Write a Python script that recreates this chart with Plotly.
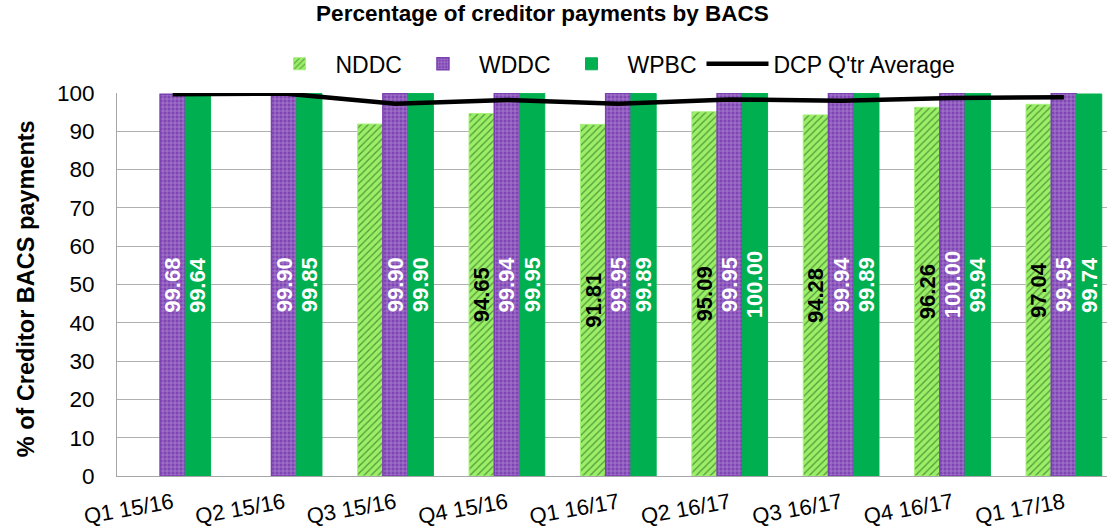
import plotly.graph_objects as go

categories = ["Q1 15/16", "Q2 15/16", "Q3 15/16", "Q4 15/16", "Q1 16/17",
              "Q2 16/17", "Q3 16/17", "Q4 16/17", "Q1 17/18"]
nddc = [None, None, 91.9, 94.65, 91.81, 95.09, 94.28, 96.26, 97.04]
nddc_labels = ["", "", "", "94.65", "91.81", "95.09", "94.28", "96.26", "97.04"]
wddc = [99.68, 99.90, 99.90, 99.94, 99.95, 99.95, 99.94, 100.00, 99.95]
wddc_labels = ["99.68", "99.90", "99.90", "99.94", "99.95", "99.95", "99.94", "100.00", "99.95"]
wpbc = [99.64, 99.85, 99.90, 99.95, 99.89, 100.00, 99.89, 99.94, 99.74]
wpbc_labels = ["99.64", "99.85", "99.90", "99.95", "99.89", "100.00", "99.89", "99.94", "99.74"]
dcp_avg = [99.66, 99.88, 97.2, 98.2, 97.2, 98.3, 98.0, 98.7, 98.9]
yticks = [0, 10, 20, 30, 40, 50, 60, 70, 80, 90, 100]

FONT = "Liberation Sans, Arial, sans-serif"
LBL = 22

fig = go.Figure()
fig.add_trace(go.Bar(
    name="NDDC", x=categories, y=nddc, text=nddc_labels,
    textposition="inside", textangle=-90, insidetextanchor="middle",
    textfont=dict(family=FONT, size=LBL, color="black", weight="bold"),
    marker=dict(color="#99F066", line=dict(color="#A6F27C", width=1),
                pattern=dict(shape="/", fgcolor="#1a3a10", bgcolor="#99F066",
                             size=5, solidity=0.25)),
))
fig.add_trace(go.Bar(
    name="WDDC", x=categories, y=wddc, text=wddc_labels,
    textposition="inside", textangle=-90, insidetextanchor="middle",
    textfont=dict(family=FONT, size=LBL, color="white", weight="bold"),
    marker=dict(color="#7030A0", line=dict(color="#7A3FB0", width=1.5),
                pattern=dict(shape="+", fgcolor="#E6D9F2", bgcolor="#7F45B5",
                             size=4, solidity=0.3)),
))
fig.add_trace(go.Bar(
    name="WPBC", x=categories, y=wpbc, text=wpbc_labels,
    textposition="inside", textangle=-90, insidetextanchor="middle",
    textfont=dict(family=FONT, size=LBL, color="white", weight="bold"),
    marker=dict(color="#00B050", line=dict(color="#00B050", width=1)),
))
fig.add_trace(go.Scatter(
    name="DCP Q'tr Average", x=categories, y=dcp_avg, mode="lines",
    line=dict(color="black", width=4.5), cliponaxis=False,
))

fig.update_layout(
    width=1107, height=530,
    margin=dict(l=117, r=0, t=93, b=54, autoexpand=False),
    paper_bgcolor="white", plot_bgcolor="white",
    barmode="group", bargap=0.32, bargroupgap=0,
    uniformtext=dict(minsize=LBL, mode="show"),
    font=dict(family=FONT, size=20, color="black"),
    title=dict(text="<b>Percentage of creditor payments by BACS</b>",
               x=0.49, xanchor="center", y=0.99, yanchor="top",
               font=dict(family=FONT, size=22.5, color="black")),
    legend=dict(orientation="h", x=0.50, xanchor="center", y=1.02, yanchor="bottom",
                font=dict(family=FONT, size=23, color="black"),
                itemwidth=62, tracegroupgap=0, traceorder="normal"),
    showlegend=True,
)
fig.update_xaxes(
    range=[-0.5, 8.387], tickangle=-10,
    tickfont=dict(family=FONT, size=22, color="black"),
    showline=True, linecolor="#a6a6a6", linewidth=1, showgrid=False,
    ticks="", ticklabelstandoff=5,
)
fig.update_yaxes(
    range=[0, 100], tickvals=yticks,
    tickfont=dict(family=FONT, size=22.5, color="black"),
    showgrid=True, gridcolor="#b0b0b0", gridwidth=1,
    showline=True, linecolor="#a6a6a6", linewidth=1,
    zeroline=False, ticks="", ticklabelstandoff=17,
)
fig.add_annotation(
    text="<b>% of Creditor BACS payments</b>", textangle=-90,
    xref="paper", yref="paper", x=-0.092, y=0.49,
    xanchor="center", yanchor="middle", showarrow=False,
    font=dict(family=FONT, size=23.5, color="black"),
)

fig.write_html("out.html", config={"displayModeBar": False},
               post_script="document.body.style.margin='0';")
